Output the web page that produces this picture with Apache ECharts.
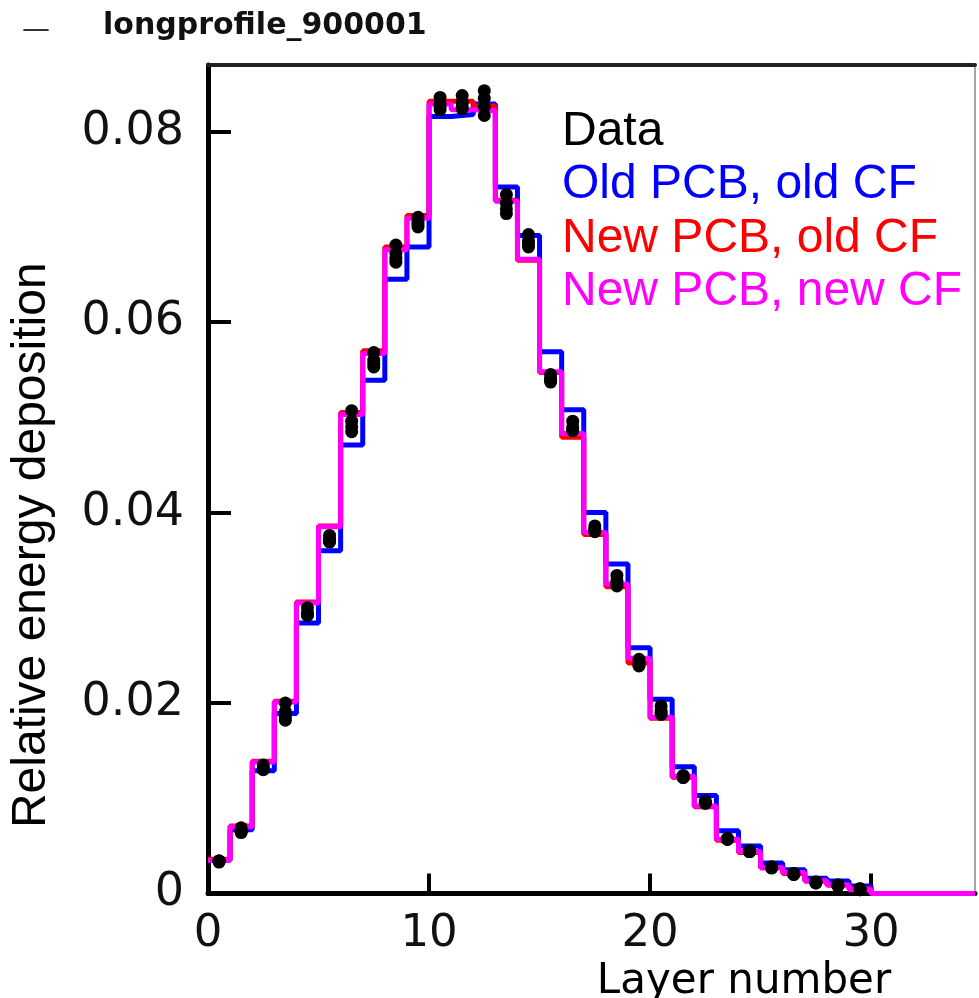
<!DOCTYPE html>
<html>
<head>
<meta charset="utf-8">
<script src="https://cdn.jsdelivr.net/npm/echarts@6/dist/echarts.min.js"></script>
<style>html,body{margin:0;padding:0;background:#fff;}#c{width:979px;height:998px;}</style>
</head>
<body>
<div id="c"></div>
<script>
// Layer bins (left edges) 0..29
const layers = [0,1,2,3,4,5,6,7,8,9,10,11,12,13,14,15,16,17,18,19,20,21,22,23,24,25,26,27,28,29];
const xTicks = [0, 10, 20, 30];
const yTicks = [0, 0.02, 0.04, 0.06, 0.08];

const oldPcbOldCf = [0.0035,0.0067,0.0129,0.0189,0.0284,0.0360,0.0471,0.0539,0.0645,0.0679,0.0816,0.0818,0.0829,0.0742,0.0691,0.0569,0.0508,0.0400,0.0346,0.0258,0.0204,0.0133,0.0103,0.0066,0.0050,0.0032,0.0025,0.0016,0.0013,0.0008];
const newPcbOldCf = [0.0036,0.0071,0.0139,0.0202,0.0306,0.0386,0.0505,0.0570,0.0679,0.0712,0.0832,0.0832,0.0827,0.0728,0.0665,0.0547,0.0479,0.0377,0.0322,0.0242,0.0184,0.0122,0.0091,0.0056,0.0043,0.0027,0.0021,0.0013,0.0009,0.0005];
const newPcbNewCf = [0.0035,0.0070,0.0138,0.0201,0.0305,0.0385,0.0503,0.0567,0.0676,0.0709,0.0829,0.0823,0.0822,0.0727,0.0666,0.0548,0.0483,0.0379,0.0325,0.0247,0.0185,0.0123,0.0092,0.0057,0.0044,0.0027,0.0022,0.0013,0.0009,0.0004];

const dataRun1 = [0.0034,0.0069,0.0135,0.0200,0.0300,0.0376,0.0507,0.0568,0.0681,0.0710,0.0836,0.0838,0.0843,0.0734,0.0692,0.0545,0.0496,0.0386,0.0334,0.0246,0.0197,0.0124,0.0097,0.0058,0.0045,0.0028,0.0021,0.0012,0.0009,0.0005];
const dataRun2 = [0.0034,0.0066,0.0132,0.0191,0.0295,0.0372,0.0496,0.0560,0.0672,0.0705,0.0829,0.0831,0.0835,0.0725,0.0685,0.0541,0.0490,0.0383,0.0328,0.0242,0.0192,0.0122,0.0095,0.0057,0.0044,0.0027,0.0021,0.0012,0.0009,0.0005];
const dataRun3 = [0.0033,0.0064,0.0130,0.0182,0.0292,0.0369,0.0485,0.0553,0.0663,0.0700,0.0823,0.0824,0.0826,0.0714,0.0679,0.0537,0.0486,0.0380,0.0323,0.0239,0.0188,0.0122,0.0095,0.0057,0.0044,0.0027,0.0020,0.0011,0.0008,0.0004];
const dataRun4 = [0.0034,0.0065,0.0131,0.0186,0.0293,0.0370,0.0490,0.0556,0.0667,0.0702,0.0826,0.0827,0.0817,0.0719,0.0682,0.0539,0.0488,0.0381,0.0325,0.0240,0.0190,0.0122,0.0095,0.0057,0.0044,0.0027,0.0020,0.0011,0.0008,0.0004];

const X_MAX = 34.7;
const Y_MAX = 0.087;
const histEnd = 30;

function stepData(vals) {
  const d = layers.map((l, i) => [l, vals[i]]);
  d.push([histEnd, 0]);
  d.push([X_MAX, 0]);
  return d;
}
const dataPoints = [];
[dataRun1, dataRun2, dataRun3, dataRun4].forEach(run => {
  layers.forEach((l, i) => dataPoints.push([l + 0.5, run[i]]));
});

const chart = echarts.init(document.getElementById('c'), null, {renderer: 'canvas'});
const stepLine = (name, color, vals, z) => ({
  name, type: 'line', step: 'end', data: stepData(vals), showSymbol: false, symbol: 'none',
  lineStyle: {color, width: 5}, itemStyle: {color}, z, animation: false
});

chart.setOption({
  animation: false,
  backgroundColor: '#fff',
  title: [
    {text: '—', left: 22, top: 17, padding: 0,
     textStyle: {fontFamily: 'DejaVu Sans', fontSize: 28, fontWeight: 'normal', color: '#333'}},
    {text: 'longprofile_900001', left: 103, top: 11, padding: 0,
     textStyle: {fontFamily: 'DejaVu Sans', fontSize: 30, fontWeight: 'bold', color: '#111'}}
  ],
  legend: {
    orient: 'vertical', left: 557, top: 105, padding: 0,
    icon: 'none', itemWidth: 0, itemHeight: 1, itemGap: 0, selectedMode: false,
    textStyle: {fontFamily: 'Liberation Sans', fontSize: 48, lineHeight: 53.5},
    data: [
      {name: 'Data', textStyle: {color: '#000'}},
      {name: 'Old PCB, old CF', textStyle: {color: '#0000ff'}},
      {name: 'New PCB, old CF', textStyle: {color: '#ff0000'}},
      {name: 'New PCB, new CF', textStyle: {color: '#ff00ff'}}
    ]
  },
  grid: {left: 208, top: 65, right: 4, bottom: 104.5, containLabel: false, outerBoundsMode: 'none', show: false},
  xAxis: [
    {
      type: 'value', min: 0, max: X_MAX, interval: 10,
      name: 'Layer number', nameLocation: 'middle', nameGap: 64,
      nameTextStyle: {fontFamily: 'DejaVu Sans', fontSize: 42, color: '#000', padding: [0, 0, 0, 305], verticalAlign: 'top'},
      axisLine: {show: true, onZero: false, lineStyle: {color: '#000', width: 5}},
      axisTick: {show: true, inside: true, length: 20, lineStyle: {color: '#000', width: 4}},
      axisLabel: {show: true, margin: 18, showMaxLabel: false, fontFamily: 'DejaVu Sans', fontSize: 45, color: '#111',
        formatter: v => (xTicks.indexOf(v) >= 0 ? String(v) : '')},
      splitLine: {show: false}
    },
    {
      type: 'value', position: 'top', min: 0, max: X_MAX,
      axisLine: {show: true, onZero: false, lineStyle: {color: '#222', width: 4}},
      axisTick: {show: false}, axisLabel: {show: false}, splitLine: {show: false}
    }
  ],
  yAxis: [
    {
      type: 'value', min: 0, max: Y_MAX, interval: 0.02,
      name: 'Relative energy deposition', nameLocation: 'middle', nameGap: 152, nameRotate: 90,
      nameTextStyle: {fontFamily: 'Liberation Sans', fontSize: 48, color: '#000', padding: [0, 132, 0, 0]},
      axisLine: {show: true, onZero: false, lineStyle: {color: '#000', width: 5}},
      axisTick: {show: true, inside: true, length: 23, lineStyle: {color: '#000', width: 4}},
      axisLabel: {show: true, margin: 24, showMaxLabel: false, fontFamily: 'DejaVu Sans', fontSize: 46, color: '#111',
        formatter: v => {
          const idx = yTicks.findIndex(t => Math.abs(t - v) < 1e-9);
          if (idx < 0) return '';
          return v === 0 ? '0' : v.toFixed(2);
        }},
      splitLine: {show: false}
    },
    {
      type: 'value', position: 'right', min: 0, max: Y_MAX,
      axisLine: {show: true, onZero: false, lineStyle: {color: '#888', width: 1.5}},
      axisTick: {show: false}, axisLabel: {show: false}, splitLine: {show: false}
    }
  ],
  series: [
    stepLine('Old PCB, old CF', '#0000ff', oldPcbOldCf, 2),
    stepLine('New PCB, old CF', '#ff0000', newPcbOldCf, 3),
    stepLine('New PCB, new CF', '#ff00ff', newPcbNewCf, 4),
    {
      name: 'Data', type: 'scatter', data: dataPoints, symbol: 'circle', symbolSize: 13,
      itemStyle: {color: '#000', opacity: 1}, z: 5, animation: false
    }
  ]
});
</script>
</body>
</html>
